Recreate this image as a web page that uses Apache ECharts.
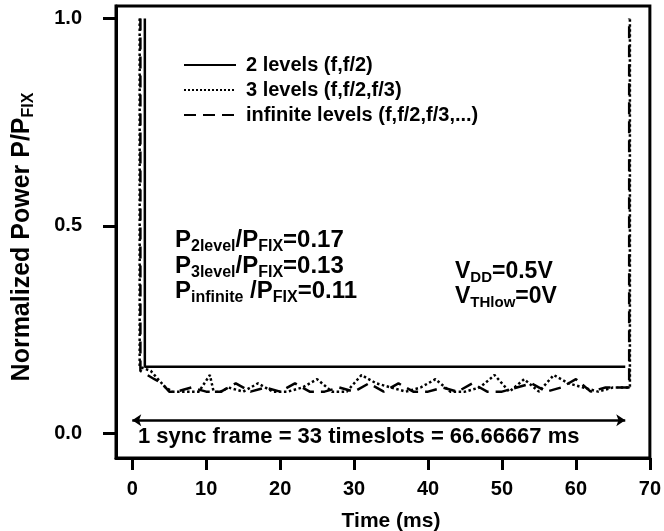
<!DOCTYPE html>
<html><head><meta charset="utf-8">
<script src="https://cdn.jsdelivr.net/npm/echarts@6/dist/echarts.min.js"></script>
<style>html,body{margin:0;padding:0;background:#fff}#c{width:664px;height:531px}</style>
</head><body><div id="c"></div>
<script>
// ---- data ----
const xTicks = [0, 10, 20, 30, 40, 50, 60, 70];
const yTicks = [0, 0.5, 1.0];
const seriesNames = ['2 levels (f,f/2)', '3 levels (f,f/2,f/3)', 'infinite levels (f,f/2,f/3,...)'];

const twoLevelX = [1.7, 1.7, 66.67];
const twoLevelY = [1.0, 0.16, 0.16];

const threeLevelX = [1.0, 1.0, 2.5, 3.5, 4.5, 5.5, 7, 9, 10.5, 11, 12, 13, 15, 17, 19, 21, 23, 25, 27, 29, 31, 33, 35, 37, 39, 41, 43, 45, 47, 49, 51, 53, 55, 57, 59, 61, 63, 65, 67.3, 67.3];
const threeLevelY = [1.0, 0.16, 0.15, 0.13, 0.11, 0.10, 0.10, 0.10, 0.14, 0.10, 0.10, 0.11, 0.10, 0.12, 0.10, 0.10, 0.11, 0.13, 0.10, 0.10, 0.14, 0.12, 0.11, 0.10, 0.11, 0.13, 0.10, 0.10, 0.11, 0.14, 0.10, 0.13, 0.10, 0.14, 0.12, 0.11, 0.10, 0.11, 0.11, 1.0];

const infX = [1.1, 1.1, 3, 4, 5, 6, 8, 10, 12, 14, 16, 18, 20, 22, 24, 26, 28, 30, 32, 34, 36, 38, 40, 42, 44, 46, 48, 50, 52, 54, 56, 58, 60, 62, 64, 67.2, 67.2];
const infY = [1.0, 0.15, 0.13, 0.12, 0.10, 0.10, 0.11, 0.10, 0.10, 0.12, 0.10, 0.11, 0.10, 0.12, 0.10, 0.10, 0.11, 0.10, 0.12, 0.10, 0.12, 0.10, 0.10, 0.11, 0.10, 0.12, 0.10, 0.10, 0.11, 0.12, 0.10, 0.11, 0.13, 0.10, 0.11, 0.11, 1.0];

const frameStart = 0, frameEnd = 66.67, arrowY = 0.031;

function pairs(xs, ys) { return xs.map((x, i) => [x, ys[i]]); }

const F = 'Liberation Sans, Arial, Helvetica, sans-serif';
const chart = echarts.init(document.getElementById('c'));
chart.setOption({
  animation: false,
  backgroundColor: '#fff',
  grid: { left: 116, right: 14, top: 6, bottom: 73, show: true, borderColor: '#000', borderWidth: 3, backgroundColor: 'transparent' },
  xAxis: {
    type: 'value', min: -2.2, max: 70,
    axisLine: { show: true, onZero: false, lineStyle: { color: '#000', width: 3 } },
    axisTick: { show: true, inside: false, length: 12, lineStyle: { color: '#000', width: 3 }, customValues: xTicks },
    axisLabel: { color: '#000', fontFamily: F, fontWeight: 'bold', fontSize: 20, margin: 21, customValues: xTicks, formatter: v => String(v) },
    splitLine: { show: false }
  },
  yAxis: {
    type: 'value', min: -0.06, max: 1.03,
    axisLine: { show: true, onZero: false, lineStyle: { color: '#000', width: 3 } },
    axisTick: { show: true, inside: false, length: 13, lineStyle: { color: '#000', width: 3 }, customValues: yTicks },
    axisLabel: { color: '#000', fontFamily: F, fontWeight: 'bold', fontSize: 20, margin: 34, customValues: yTicks, formatter: v => v.toFixed(1) },
    splitLine: { show: false }
  },
  legend: {
    orient: 'vertical', left: 178, top: 50, itemWidth: 52, itemHeight: 14, itemGap: 5,
    data: seriesNames,
    itemStyle: { opacity: 0 },
    textStyle: { color: '#000', fontFamily: F, fontWeight: 'bold', fontSize: 20, padding: [0, 0, 0, 5] }
  },
  series: [
    { name: seriesNames[0], type: 'line', symbol: 'none', data: pairs(twoLevelX, twoLevelY),
      lineStyle: { color: '#000', width: 2.5, type: 'solid' }, itemStyle: { color: '#000' },
      markLine: { silent: true, symbol: ['arrow', 'arrow'], symbolSize: [9, 9],
        lineStyle: { color: '#000', width: 2.5, type: 'solid' }, label: { show: false },
        data: [[{ coord: [frameStart, arrowY] }, { coord: [frameEnd, arrowY] }]] } },
    { name: seriesNames[1], type: 'line', symbol: 'none', data: pairs(threeLevelX, threeLevelY),
      lineStyle: { color: '#000', width: 2.5, type: 'dotted' }, itemStyle: { color: '#000' } },
    { name: seriesNames[2], type: 'line', symbol: 'none', data: pairs(infX, infY),
      lineStyle: { color: '#000', width: 2.5, type: [12, 7] }, itemStyle: { color: '#000' } }
  ],
  graphic: [
    { type: 'text', x: 22, y: 237, rotation: Math.PI / 2,
      style: { text: '{m|Normalized Power P/P}{s|FIX}', align: 'center', verticalAlign: 'middle',
        rich: { m: { fontFamily: F, fontWeight: 'bold', fontSize: 25, fill: '#000' },
                s: { fontFamily: F, fontWeight: 'bold', fontSize: 16, fill: '#000', padding: [13, 0, 0, 0] } } } },
    { type: 'text', x: 391, y: 521,
      style: { text: 'Time (ms)', align: 'center', verticalAlign: 'middle', fontFamily: F, fontWeight: 'bold', fontSize: 21, fill: '#000' } },
    { type: 'text', x: 138, y: 437,
      style: { text: '1 sync frame = 33 timeslots = 66.66667 ms', align: 'left', verticalAlign: 'middle', fontFamily: F, fontWeight: 'bold', fontSize: 22, fill: '#000' } },
    { type: 'text', x: 175, y: 228,
      style: { text: '{m|P}{s|2level}{m|/P}{s|FIX}{m|=0.17}\n{m|P}{s|3level}{m|/P}{s|FIX}{m|=0.13}\n{m|P}{s|infinite}{m| /P}{s|FIX}{m|=0.11}',
        align: 'left', verticalAlign: 'top',
        rich: { m: { fontFamily: F, fontWeight: 'bold', fontSize: 24, fill: '#000', lineHeight: 25.5 },
                s: { fontFamily: F, fontWeight: 'bold', fontSize: 16, fill: '#000', padding: [12, 0, 0, 0], lineHeight: 25.5 } } } },
    { type: 'text', x: 455, y: 259,
      style: { text: '{m|V}{s|DD}{m|=0.5V}\n{m|V}{s|THlow}{m|=0V}', align: 'left', verticalAlign: 'top',
        rich: { m: { fontFamily: F, fontWeight: 'bold', fontSize: 23, fill: '#000', lineHeight: 25 },
                s: { fontFamily: F, fontWeight: 'bold', fontSize: 15, fill: '#000', padding: [12, 0, 0, 0], lineHeight: 25 } } } }
  ]
});
</script></body></html>
